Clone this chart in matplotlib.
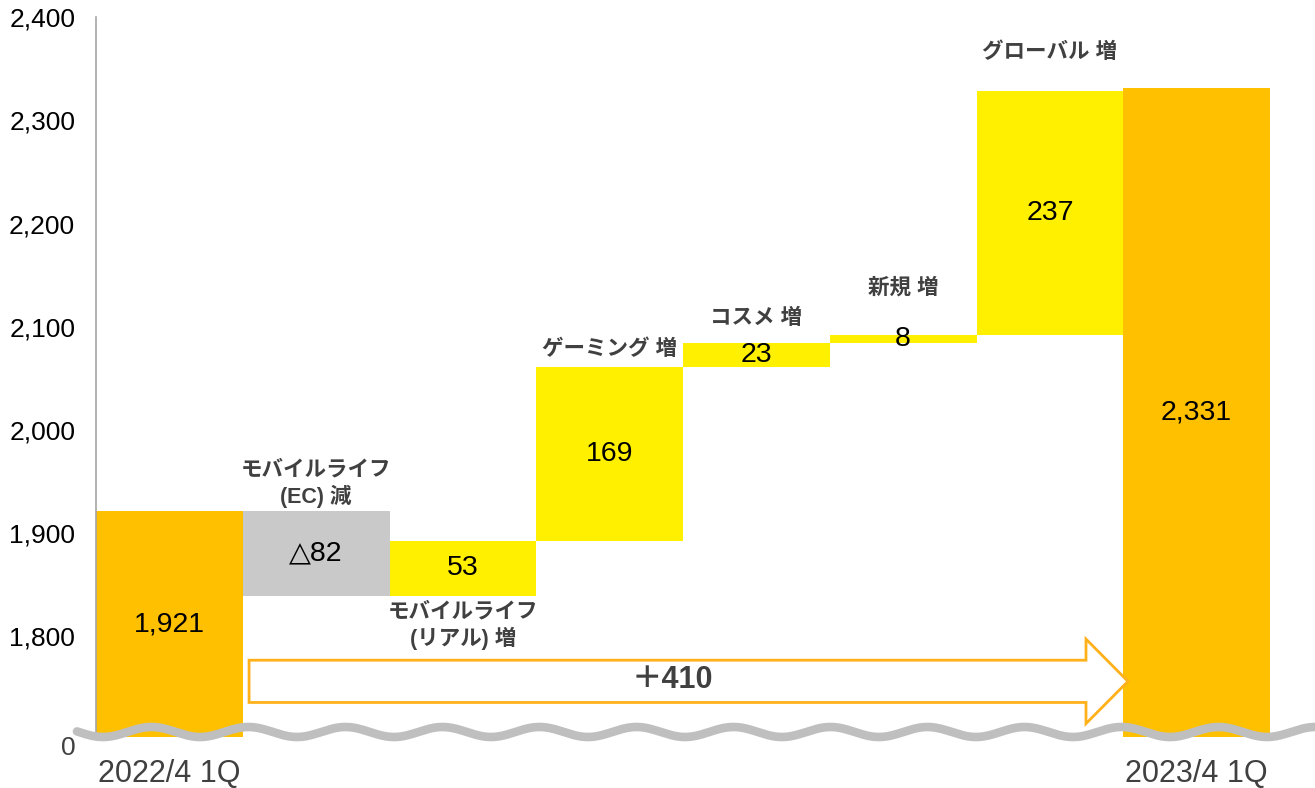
import numpy as np
import matplotlib.pyplot as plt
import matplotlib.patches as mpatches
from matplotlib.lines import Line2D

### Data.
start_label = '2022/4 1Q'
end_label = '2023/4 1Q'
start_value = 1921
end_value = 2331
step_names = ['モバイルライフ\n(EC) 減', 'モバイルライフ\n(リアル) 増', 'ゲーミング 増',
              'コスメ 増', '新規 増', 'グローバル 増']
step_values = [-82, 53, 169, 23, 8, 237]
total_change = '＋410'
y_ticks = [1800, 1900, 2000, 2100, 2200, 2300, 2400]

### Layout / style.
base = 1702           # where the broken axis starts
zero_pos = 1694       # position of the "0" label on the broken axis
name_offsets = [2, -4, 5, 10, 26, 20]   # points above (or below) each step bar
orange = '#FFC000'
yellow = '#FFF000'
grey = '#C9C9C9'
dark = '#404040'
num_font = ['Liberation Sans', 'DejaVu Sans']
jp_font = ['Liberation Sans', 'Noto Sans CJK JP']

fig = plt.figure(figsize=(13.15, 7.88), dpi=100)
ax = fig.add_axes([0.0730, 0.049, 0.8928, 0.929])

# Total bars.
n = len(step_values) + 2
ax.bar(0, start_value - base, bottom=base, width=1.0, color=orange, zorder=2)
ax.bar(n - 1, end_value - base, bottom=base, width=1.0, color=orange, zorder=2)
ax.text(0, (start_value + base) / 2, f'{start_value:,}', ha='center', va='center',
        fontsize=20.5, family=num_font)
ax.text(n - 1, (end_value + base) / 2, f'{end_value:,}', ha='center', va='center',
        fontsize=20.5, family=num_font)

# Step bars.
level = start_value
for i, (name, v) in enumerate(zip(step_names, step_values), start=1):
    lo, hi = min(level, level + v), max(level, level + v)
    ax.bar(i, hi - lo, bottom=lo, width=1.0, color=grey if v < 0 else yellow, zorder=2)
    lab = f'△{abs(v)}' if v < 0 else f'{v}'
    ax.text(i, (lo + hi) / 2, lab, ha='center', va='center', fontsize=20.5,
            family=num_font, zorder=4)
    off = name_offsets[i - 1]
    ax.annotate(name, xy=(i, hi if off > 0 else lo), xytext=(0, off),
                textcoords='offset points', ha='center',
                va='bottom' if off > 0 else 'top', fontsize=15.5, fontweight='bold',
                color=dark, family=jp_font, linespacing=1.25)
    level += v

# Total change arrow.
arrow = mpatches.FancyArrow(0.543, 1756, 6.532 - 0.543, 0, width=41, head_width=82,
                            head_length=0.286, length_includes_head=True,
                            facecolor='white', edgecolor='#FFB11B', lw=2, zorder=3)
ax.add_patch(arrow)
ax.text(3.43, 1757, total_change, ha='center', va='center', fontsize=22,
        fontweight='bold', color=dark, family=jp_font, zorder=4)

# Axes.
ax.set_xlim(-0.5, n - 0.5)
ax.set_ylim(1690, 2400)
ax.set_yticks([zero_pos] + y_ticks)
ax.set_yticklabels(['0'] + [f'{t:,}' for t in y_ticks], fontsize=19, family=num_font)
ax.get_yticklabels()[0].set_color(dark)
ax.set_xticks([0, n - 1])
ax.set_xticklabels([start_label, end_label], fontsize=22, color=dark, family=num_font)
ax.tick_params(axis='both', length=0)
ax.tick_params(axis='y', pad=15)
ax.tick_params(axis='x', pad=7)
for s in ['top', 'right', 'bottom']:
    ax.spines[s].set_visible(False)
ax.spines['left'].set_color('#A6A6A6')
ax.spines['left'].set_linewidth(1.2)
ax.spines['left'].set_bounds(base, 2400)

# Wavy axis break line.
W, H = 1315, 788
px = np.linspace(77, W, 800)
py = 732 + 5 * np.cos(2 * np.pi * (px - 103) / 97)
fig.add_artist(Line2D(px / W, 1 - py / H, transform=fig.transFigure, color='#BFBFBF',
                      lw=6.2, solid_capstyle='round', zorder=10))

fig.savefig('out.png', dpi=100)
